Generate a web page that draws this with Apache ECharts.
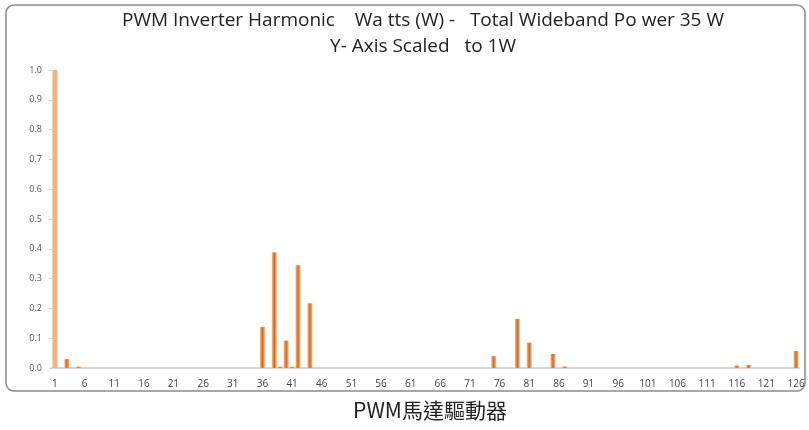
<!DOCTYPE html>
<html>
<head>
<meta charset="utf-8">
<script src="https://cdn.jsdelivr.net/npm/echarts@6/dist/echarts.min.js"></script>
<style>html,body{margin:0;padding:0;background:#fff}#c{width:809px;height:430px}</style>
</head>
<body>
<div id="c"></div>
<script>
// Harmonic numbers shown on the category axis (1..126)
const harmonicCount = 126;
// Harmonics with visible energy and their amplitudes (W, scaled to 1W)
const harmonics = [1, 3, 5, 36, 38, 39, 40, 41, 42, 44, 75, 79, 81, 85, 87, 116, 118, 126];
const amplitudes = [1.0, 0.03, 0.004, 0.138, 0.388, 0.004, 0.092, 0.004, 0.345, 0.217, 0.04, 0.165, 0.085, 0.047, 0.005, 0.008, 0.01, 0.057];
const yTicks = [0, 0.1, 0.2, 0.3, 0.4, 0.5, 0.6, 0.7, 0.8, 0.9, 1.0];
const titleLine1 = 'PWM Inverter Harmonic    Wa tts (W) -   Total Wideband Po wer 35 W';
const titleLine2 = 'Y- Axis Scaled   to 1W';
const caption = 'PWM馬達驅動器';

const categories = [];
for (let i = 1; i <= harmonicCount; i++) categories.push(String(i));
const values = categories.map(() => 0);
harmonics.forEach((h, k) => { values[h - 1] = amplitudes[k]; });

const darkGrad = new echarts.graphic.LinearGradient(0, 0, 1, 0, [
  {offset: 0, color: '#f3c08f'},
  {offset: 0.5, color: '#d4691c'},
  {offset: 1, color: '#f3c08f'}
]);
const data = values.map((v, i) => i === 0
  ? {value: v, itemStyle: {color: '#f0b482'}}
  : {value: v, itemStyle: {color: darkGrad}});

const chart = echarts.init(document.getElementById('c'), null, {renderer: 'canvas'});
chart.setOption({
  animation: false,
  title: {
    text: titleLine1 + '\n' + titleLine2,
    left: 418, top: 3, textAlign: 'center',
    textStyle: {fontFamily: 'Open Sans', fontSize: 19, fontWeight: 'normal', color: '#222', lineHeight: 26}
  },
  grid: {left: 52, right: 10, top: 70, bottom: 62},
  xAxis: {
    type: 'category', data: categories, boundaryGap: true,
    axisLine: {lineStyle: {color: '#c8c8c8', width: 1.5}},
    axisTick: {interval: 4, alignWithLabel: true, length: 4, lineStyle: {color: '#c8c8c8'}},
    axisLabel: {interval: 4, color: '#444', fontSize: 10, margin: 11, fontFamily: 'Open Sans'},
    splitLine: {show: false}
  },
  yAxis: {
    type: 'value', min: 0, max: 1, interval: 0.1,
    axisLine: {show: false},
    axisTick: {show: true, length: 3, lineStyle: {color: '#d0d0d0'}},
    axisLabel: {color: '#555', fontSize: 9, margin: 10, fontFamily: 'Open Sans',
      formatter: v => yTicks.some(t => Math.abs(t - v) < 1e-9) ? v.toFixed(1) : ''},
    splitLine: {show: false}
  },
  series: [{
    type: 'bar', data: data, barWidth: 5, barGap: '0%'
  }],
  graphic: [
    {type: 'rect', shape: {x: 6, y: 5, width: 799, height: 386, r: 8}, style: {fill: 'none', stroke: '#8a8a8a', lineWidth: 1.5}, z: -1},
    {type: 'text', x: 430, y: 410, style: {text: caption, fontSize: 21, fontFamily: 'Noto Sans CJK TC', fill: '#222', textAlign: 'center', textVerticalAlign: 'middle'}}
  ]
});
</script>
</body>
</html>
